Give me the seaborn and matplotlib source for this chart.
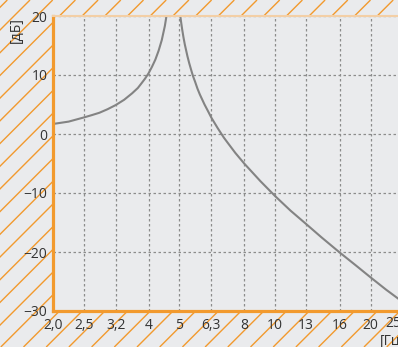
import matplotlib
matplotlib.use("Agg")
import matplotlib.pyplot as plt
import seaborn as sns
import pandas as pd

# curve: frequency [Hz] and level [dB], below / above the resonance
freq_low = [2.0, 2.24, 2.5, 2.65, 2.8, 2.97, 3.15, 3.35, 3.55, 3.7, 3.8, 3.9, 4.0, 4.1, 4.2,
            4.3, 4.4, 4.5, 4.55, 4.6, 4.65, 4.7]
db_low = [1.7, 2.1, 2.8, 3.2, 3.6, 4.2, 4.9, 5.8, 6.9, 7.8, 8.6, 9.4, 10.3, 11.4, 12.6,
          14.1, 15.9, 18.3, 19.9, 21.8, 24.2, 27.7]
freq_high = [4.9, 4.95, 5.0, 5.05, 5.1, 5.15, 5.2, 5.3, 5.37, 5.45, 5.52, 5.6, 5.7, 5.8, 6.0,
             6.15, 6.3, 6.6, 6.9, 7.1, 7.5, 8.0, 9.0, 10, 11.2, 12.5, 14, 16, 18, 20, 22.4, 25]
db_high = [27.5, 23.9, 21.4, 19.4, 17.8, 16.4, 15.2, 13.2, 12.0, 10.8, 9.8, 8.9, 7.7, 6.7, 5.0,
           3.9, 2.8, 1.0, -0.6, -1.5, -3.2, -5.0, -8.0, -10.5, -13.0, -15.2, -17.5, -20.1,
           -22.3, -24.3, -26.4, -28.3]

tick_freqs = [2.0, 2.5, 3.15, 4, 5, 6.3, 8, 10, 12.5, 16, 20]
tick_labels = ["2,0", "2,5", "3,2", "4", "5", "6,3", "8", "10", "13", "16", "20"]
y_ticks = [-30, -20, -10, 0, 10, 20]

df = pd.DataFrame({
    "freq": freq_low + freq_high,
    "db": db_low + db_high,
    "branch": ["low"] * len(freq_low) + ["high"] * len(freq_high),
})

BG = "#EAEBED"
ORANGE = "#F29A2E"
TEXT = "#333333"

sns.set_theme(style="white")
plt.rcParams["font.family"] = ["Open Sans", "DejaVu Sans"]

W, H = 398, 347
fig = plt.figure(figsize=(W / 100, H / 100), dpi=100, facecolor=BG)

# hatched background behind everything
bg = fig.add_axes([0, 0, 1, 1], zorder=-1)
bg.set_xlim(0, W)
bg.set_ylim(H, 0)
bg.axis("off")
c = 7.3
while c < W + H + 30:
    bg.plot([c, c - H], [0, H], color=ORANGE, lw=1.0, solid_capstyle="butt")
    c += 22.7

ax = fig.add_axes([53 / W, 36 / H, 1 - 53 / W, 295 / H])
ax.set_facecolor(BG)

sns.lineplot(data=df, x="freq", y="db", units="branch", estimator=None, sort=False,
             color="#838383", lw=1.5, ax=ax)

ax.set_xscale("log")
ax.set_xlim(2.0, 24.4)
ax.set_ylim(-30, 20)
ax.set_xticks(tick_freqs)
ax.set_xticklabels(tick_labels)
ax.minorticks_off()
ax.set_yticks(y_ticks)
ax.set_xlabel("")
ax.set_ylabel("")

ax.grid(True, color="#8C8C8C", linestyle=(0, (2, 2)), lw=0.9)
ax.tick_params(length=0, labelsize=10, labelcolor=TEXT)
ax.tick_params(axis="y", pad=4)
ax.tick_params(axis="x", pad=5)

for side in ["left", "bottom"]:
    ax.spines[side].set_color(ORANGE)
    ax.spines[side].set_linewidth(2.3)
ax.spines["top"].set_color("#F3CFA6")
ax.spines["top"].set_linewidth(1.5)
ax.spines["right"].set_visible(False)

# last tick label sits near the right edge, units outside the axes
fig.text(385 / W, 36 / H - 5 / 72 * 100 / H * 0.72, "25", ha="left", va="top",
         fontsize=10, color=TEXT)
fig.text(380 / W, 5 / H, "[Гц]", ha="left", va="center", fontsize=10, color=TEXT)
fig.text(16 / W, 1 - 30 / H, "[дБ]", rotation=90, ha="center", va="center",
         fontsize=10, color=TEXT)

fig.savefig("out.png", dpi=100, facecolor=BG)
